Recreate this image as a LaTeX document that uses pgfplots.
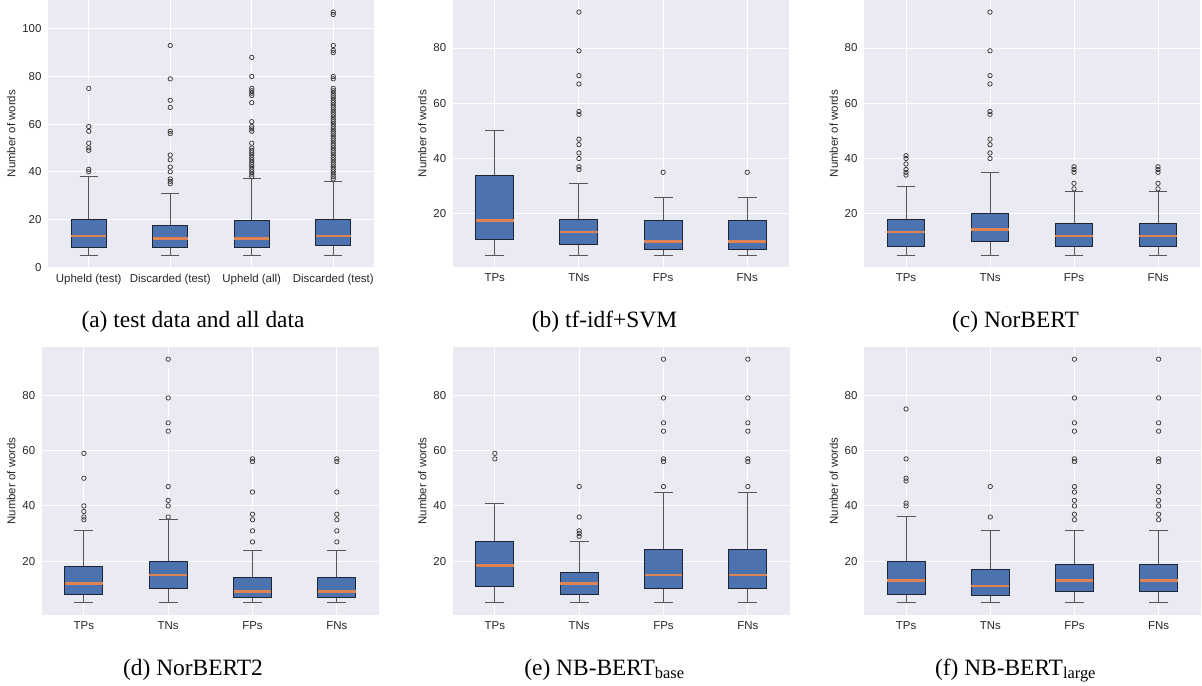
\documentclass[border=0pt]{standalone}
\usepackage{fontspec}
\setmainfont{Liberation Sans}
\newfontfamily\capfont{Liberation Serif}
\usepackage{pgfplots}
\pgfplotsset{compat=1.18}
\usepgfplotslibrary{statistics}

\definecolor{bgc}{HTML}{EAEAF2}
\definecolor{boxblue}{HTML}{4C72B0}
\definecolor{medc}{HTML}{DD8452}
\definecolor{boxedge}{HTML}{1F2633}
\definecolor{whiskc}{HTML}{555555}
\definecolor{markc}{HTML}{3A3A3A}
\definecolor{tickc}{HTML}{262626}

\newcommand{\axfont}{\fontsize{11.5}{13.8}\selectfont}
\newcommand{\capsize}{\capfont\fontsize{23.5}{28}\selectfont}

\pgfplotsset{
  sea/.style={
    scale only axis,
    anchor=south west,
    axis background/.style={fill=bgc},
    axis line style={draw=none},
    tick style={draw=none},
    major tick length=0pt,
    grid=major,
    major grid style={draw=white, line width=1bp},
    xmin=0.5, xmax=4.5,
    xtick={1,2,3,4},
    xticklabels={TPs,TNs,FPs,FNs},
    ymin=0.6, ymax=97.4,
    ytick={20,40,60,80},
    tick label style={font=\axfont, text=tickc},
    label style={font=\axfont, text=tickc},
    xticklabel style={yshift=-3bp},
    yticklabel style={xshift=-3bp},
    ylabel={Number of words},
    /pgf/number format/assume math mode=true,
    boxplot/draw direction=y,
    boxplot/box extend=0.45,
    boxplot/whisker extend=0.225,
  },
  sbox/.style={
    solid, draw=boxedge, fill=boxblue, line width=1bp,
    mark=o, mark size=2.2bp,
    mark options={draw=markc, line width=0.75bp, fill=none},
    boxplot/every median/.style={draw=medc, line width=2.5bp},
    boxplot/every whisker/.style={draw=whiskc, line width=1bp},
  },
}

% position, lower whisker, lower quartile, median, upper quartile, upper whisker, outliers
\newcommand{\bx}[7]{%
  \addplot[sbox, boxplot prepared={draw position=#1, lower whisker=#2,
    lower quartile=#3, median=#4, upper quartile=#5, upper whisker=#6}]
    coordinates {#7};}

\begin{document}
\begin{tikzpicture}
\path[use as bounding box] (0,0) rectangle (1202bp,686bp);

% (a) test data and all data
\begin{axis}[sea, at={(48bp,418.7bp)}, width=326bp, height=267.3bp,
  ymin=-0.1, ymax=112.1, ytick={0,20,40,60,80,100},
  xticklabels={Upheld (test),Discarded (test),Upheld (all),Discarded (test)},
  boxplot/box extend=0.43, boxplot/whisker extend=0.215]
\bx{1}{5}{8}{13}{20}{38}{(0,40) (0,41) (0,49) (0,50) (0,52) (0,57) (0,59) (0,75)}
\bx{2}{5}{8}{12}{17.5}{31}{(0,35) (0,36) (0,37) (0,40) (0,42) (0,45) (0,47) (0,56) (0,57) (0,67) (0,70) (0,79) (0,93)}
\bx{3}{5}{8}{12}{19.5}{37}{(0,38) (0,39) (0,40) (0,41) (0,42) (0,43) (0,44) (0,45) (0,46) (0,47) (0,48) (0,49) (0,50) (0,52) (0,57) (0,58) (0,59) (0,61) (0,69) (0,72) (0,73) (0,74) (0,75) (0,80) (0,88)}
\bx{4}{5}{9}{13}{20}{36}{(0,37) (0,38) (0,39) (0,40) (0,41) (0,42) (0,43) (0,44) (0,45) (0,46) (0,47) (0,48) (0,49) (0,50) (0,51) (0,52) (0,53) (0,54) (0,55) (0,56) (0,57) (0,58) (0,59) (0,60) (0,61) (0,62) (0,63) (0,64) (0,65) (0,66) (0,67) (0,68) (0,69) (0,70) (0,71) (0,72) (0,73) (0,74) (0,75) (0,79) (0,80) (0,90) (0,91) (0,93) (0,106) (0,107)}
\end{axis}

% (b) tf-idf+SVM
\begin{axis}[sea, at={(452.7bp,418.7bp)}, width=336.6bp, height=267.3bp]
\bx{1}{5}{10.5}{17.5}{34}{50}{}
\bx{2}{5}{9}{13.3}{18}{31}{(0,36) (0,37) (0,40) (0,42) (0,45) (0,47) (0,56) (0,57) (0,67) (0,70) (0,79) (0,93)}
\bx{3}{5}{7}{10}{17.5}{26}{(0,35)}
\bx{4}{5}{7}{10}{17.5}{26}{(0,35)}
\end{axis}

% (c) NorBERT
\begin{axis}[sea, at={(864bp,418.7bp)}, width=336bp, height=267.3bp]
\bx{1}{5}{8}{13.3}{18}{30}{(0,34) (0,35) (0,36) (0,38) (0,40) (0,41)}
\bx{2}{5}{10}{14.3}{20}{35}{(0,40) (0,42) (0,45) (0,47) (0,56) (0,57) (0,67) (0,70) (0,79) (0,93)}
\bx{3}{5}{8}{12}{16.3}{28}{(0,29) (0,31) (0,35) (0,36) (0,37)}
\bx{4}{5}{8}{12}{16.3}{28}{(0,29) (0,31) (0,35) (0,36) (0,37)}
\end{axis}

% (d) NorBERT2
\begin{axis}[sea, at={(41.7bp,71bp)}, width=337.3bp, height=268bp]
\bx{1}{5}{8}{12}{18}{31}{(0,35) (0,36) (0,38) (0,40) (0,50) (0,59)}
\bx{2}{5}{10}{15}{20}{35}{(0,36) (0,40) (0,42) (0,47) (0,67) (0,70) (0,79) (0,93)}
\bx{3}{5}{7}{9}{14}{24}{(0,27) (0,31) (0,35) (0,37) (0,45) (0,56) (0,57)}
\bx{4}{5}{7}{9}{14}{24}{(0,27) (0,31) (0,35) (0,37) (0,45) (0,56) (0,57)}
\end{axis}

% (e) NB-BERT base
\begin{axis}[sea, at={(452.7bp,71bp)}, width=337.3bp, height=268bp]
\bx{1}{5}{11}{18.5}{27}{41}{(0,57) (0,59)}
\bx{2}{5}{8}{12}{16}{27}{(0,29) (0,30) (0,31) (0,36) (0,47)}
\bx{3}{5}{10}{15}{24.3}{45}{(0,47) (0,56) (0,57) (0,67) (0,70) (0,79) (0,93)}
\bx{4}{5}{10}{15}{24.3}{45}{(0,47) (0,56) (0,57) (0,67) (0,70) (0,79) (0,93)}
\end{axis}

% (f) NB-BERT large
\begin{axis}[sea, at={(864bp,71bp)}, width=336.7bp, height=268bp]
\bx{1}{5}{8}{13}{20}{36}{(0,40) (0,41) (0,49) (0,50) (0,57) (0,75)}
\bx{2}{5}{7.5}{11}{17}{31}{(0,36) (0,47)}
\bx{3}{5}{9}{13}{19}{31}{(0,35) (0,37) (0,40) (0,42) (0,45) (0,47) (0,56) (0,57) (0,67) (0,70) (0,79) (0,93)}
\bx{4}{5}{9}{13}{19}{31}{(0,35) (0,37) (0,40) (0,42) (0,45) (0,47) (0,56) (0,57) (0,67) (0,70) (0,79) (0,93)}
\end{axis}

\node[anchor=base, font=\capsize] at (193bp,358bp) {(a) test data and all data};
\node[anchor=base, font=\capsize] at (604.5bp,358bp) {(b) tf-idf+SVM};
\node[anchor=base, font=\capsize] at (1015.5bp,358bp) {(c) NorBERT};
\node[anchor=base, font=\capsize] at (193bp,11bp) {(d) NorBERT2};
\node[anchor=base, font=\capsize] at (604.5bp,11bp) {(e) NB-BERT\textsubscript{base}};
\node[anchor=base, font=\capsize] at (1015.5bp,11bp) {(f) NB-BERT\textsubscript{large}};
\end{tikzpicture}
\end{document}
